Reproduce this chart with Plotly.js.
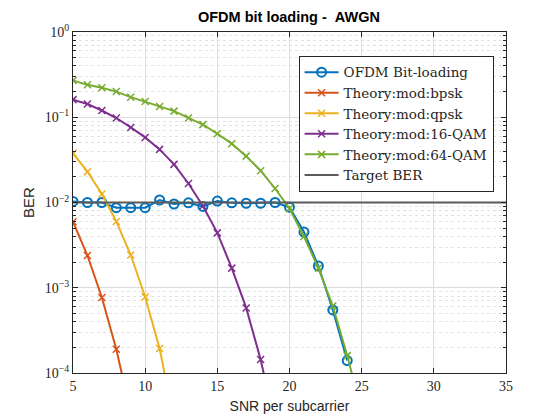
<!DOCTYPE html>
<html>
<head>
<meta charset="utf-8">
<script src="https://cdn.plot.ly/plotly-3.0.1.min.js"></script>
<style>
  body { margin: 0; background: #fff; }
  #plot { width: 560px; height: 420px; }
</style>
</head>
<body>
<div id="plot"></div>
<script>
// SNR grid (dB per subcarrier)
var snr = [5, 6, 7, 8, 9, 10, 11, 12, 13, 14, 15, 16, 17, 18, 19, 20, 21, 22, 23, 24, 25];

// simulated bit-loading result
var snrOfdm = [5, 6, 7, 8, 9, 10, 11, 12, 13, 14, 15, 16, 17, 18, 19, 20, 21, 22, 23, 24];
var berOfdm = [0.0103, 0.0100, 0.0100, 0.0087, 0.0087, 0.0087, 0.0107, 0.0096, 0.0099, 0.0090,
               0.0104, 0.0099, 0.0098, 0.0098, 0.0100, 0.0088, 0.0045, 0.0018, 0.00055, 0.00014];

// theory curves
var snrBpsk = [5, 6, 7, 8, 9, 10];
var berBpsk = [0.00595, 0.00239, 0.00077, 0.00019, 3.4e-5, 3.9e-6];

var snrQpsk = [5, 6, 7, 8, 9, 10, 11, 12, 13];
var berQpsk = [0.0377, 0.0230, 0.0126, 0.0060, 0.00242, 0.00078, 0.000194, 3.4e-5, 4e-6];

var snrQam16 = [5, 6, 7, 8, 9, 10, 11, 12, 13, 14, 15, 16, 17, 18, 19, 20];
var berQam16 = [0.161, 0.143, 0.120, 0.098, 0.076, 0.058, 0.042, 0.028, 0.0167, 0.0091,
                0.0044, 0.0017, 0.00058, 0.000144, 2.5e-5, 3e-6];

var berQam64 = [0.27, 0.24, 0.222, 0.200, 0.172, 0.153, 0.134, 0.118, 0.098, 0.082,
                0.064, 0.049, 0.035, 0.0236, 0.0146, 0.0085, 0.0040, 0.0017, 0.00061, 0.00016, 3.5e-5];

var targetX = [5, 35];
var targetBer = [0.01, 0.01];

var names = ['OFDM Bit-loading', 'Theory:mod:bpsk', 'Theory:mod:qpsk',
             'Theory:mod:16-QAM', 'Theory:mod:64-QAM', 'Target BER'];
var colors = ['#0072BD', '#D95319', '#EDB120', '#7E2F8E', '#77AC30', '#5a5a5a'];

var yTickVals = [1e-4, 1e-3, 1e-2, 1e-1, 1];
var yTickText = ['10<sup>\u22124</sup>', '10<sup>\u22123</sup>', '10<sup>\u22122</sup>',
                 '10<sup>\u22121</sup>', '10<sup>0</sup>'];

// minor grid at 2..9 of each decade
var minorVals = [];
for (var e = -4; e < 0; e++) {
  for (var m = 2; m <= 9; m++) minorVals.push(m * Math.pow(10, e));
}

function theory(x, y, i) {
  return {
    x: x, y: y, name: names[i], type: 'scatter', mode: 'lines+markers',
    line: {color: colors[i], width: 2},
    marker: {symbol: 'x-thin', size: 7, color: colors[i], line: {color: colors[i], width: 1.5}}
  };
}

var data = [
  {
    x: snrOfdm, y: berOfdm, name: names[0], type: 'scatter', mode: 'lines+markers',
    line: {color: colors[0], width: 2},
    marker: {symbol: 'circle-open', size: 9, color: colors[0], line: {color: colors[0], width: 2}}
  },
  theory(snrBpsk, berBpsk, 1),
  theory(snrQpsk, berQpsk, 2),
  theory(snrQam16, berQam16, 3),
  theory(snr, berQam64, 4),
  {
    x: targetX, y: targetBer, name: names[5], type: 'scatter', mode: 'lines',
    line: {color: colors[5], width: 2}
  }
];

var serif = 'Liberation Serif, DejaVu Serif, serif';
var sans = 'Liberation Sans, Arial, sans-serif';

var layout = {
  width: 560, height: 420,
  margin: {l: 73, r: 54, t: 32, b: 47},
  paper_bgcolor: '#fff', plot_bgcolor: '#fff',
  title: {
    text: '<b>OFDM bit loading - \u00a0AWGN</b>',
    font: {family: sans, size: 14.5, color: '#000'},
    x: 0.516, xanchor: 'center', y: 0.96, yanchor: 'middle'
  },
  showlegend: true,
  legend: {
    x: 0.521, y: 0.93, xanchor: 'left', yanchor: 'top',
    bgcolor: '#fff', bordercolor: '#262626', borderwidth: 1,
    font: {family: 'DejaVu Serif, serif', size: 13.5, color: '#262626'},
    tracegroupgap: 0, itemwidth: 34
  },
  xaxis: {
    range: [5, 35], tickmode: 'linear', tick0: 5, dtick: 5,
    showgrid: true, gridcolor: '#dcdcdc', gridwidth: 1,
    zeroline: false, showline: true, linecolor: '#262626', linewidth: 1, mirror: 'ticks',
    ticks: 'inside', ticklen: 5, tickcolor: '#262626',
    tickfont: {family: serif, size: 14, color: '#262626'},
    title: {text: 'SNR per subcarrier', font: {family: sans, size: 14, color: '#262626'}, standoff: 8}
  },
  yaxis: {
    type: 'log', range: [-4, 0],
    tickmode: 'array', tickvals: yTickVals, ticktext: yTickText,
    showgrid: true, gridcolor: '#dcdcdc', gridwidth: 1,
    zeroline: false, showline: true, linecolor: '#262626', linewidth: 1, mirror: 'ticks',
    ticks: 'inside', ticklen: 5, tickcolor: '#262626',
    tickfont: {family: serif, size: 14, color: '#262626'},
    minor: {
      tickmode: 'array', tickvals: minorVals, ticks: 'inside', ticklen: 3,
      tickcolor: '#262626', showgrid: true, gridcolor: '#e2e2e2', griddash: 'dot', gridwidth: 1
    },
    title: {text: 'BER', font: {family: sans, size: 15, color: '#262626'}, standoff: 6}
  }
};

Plotly.newPlot('plot', data, layout, {staticPlot: true, displayModeBar: false});
</script>
</body>
</html>
